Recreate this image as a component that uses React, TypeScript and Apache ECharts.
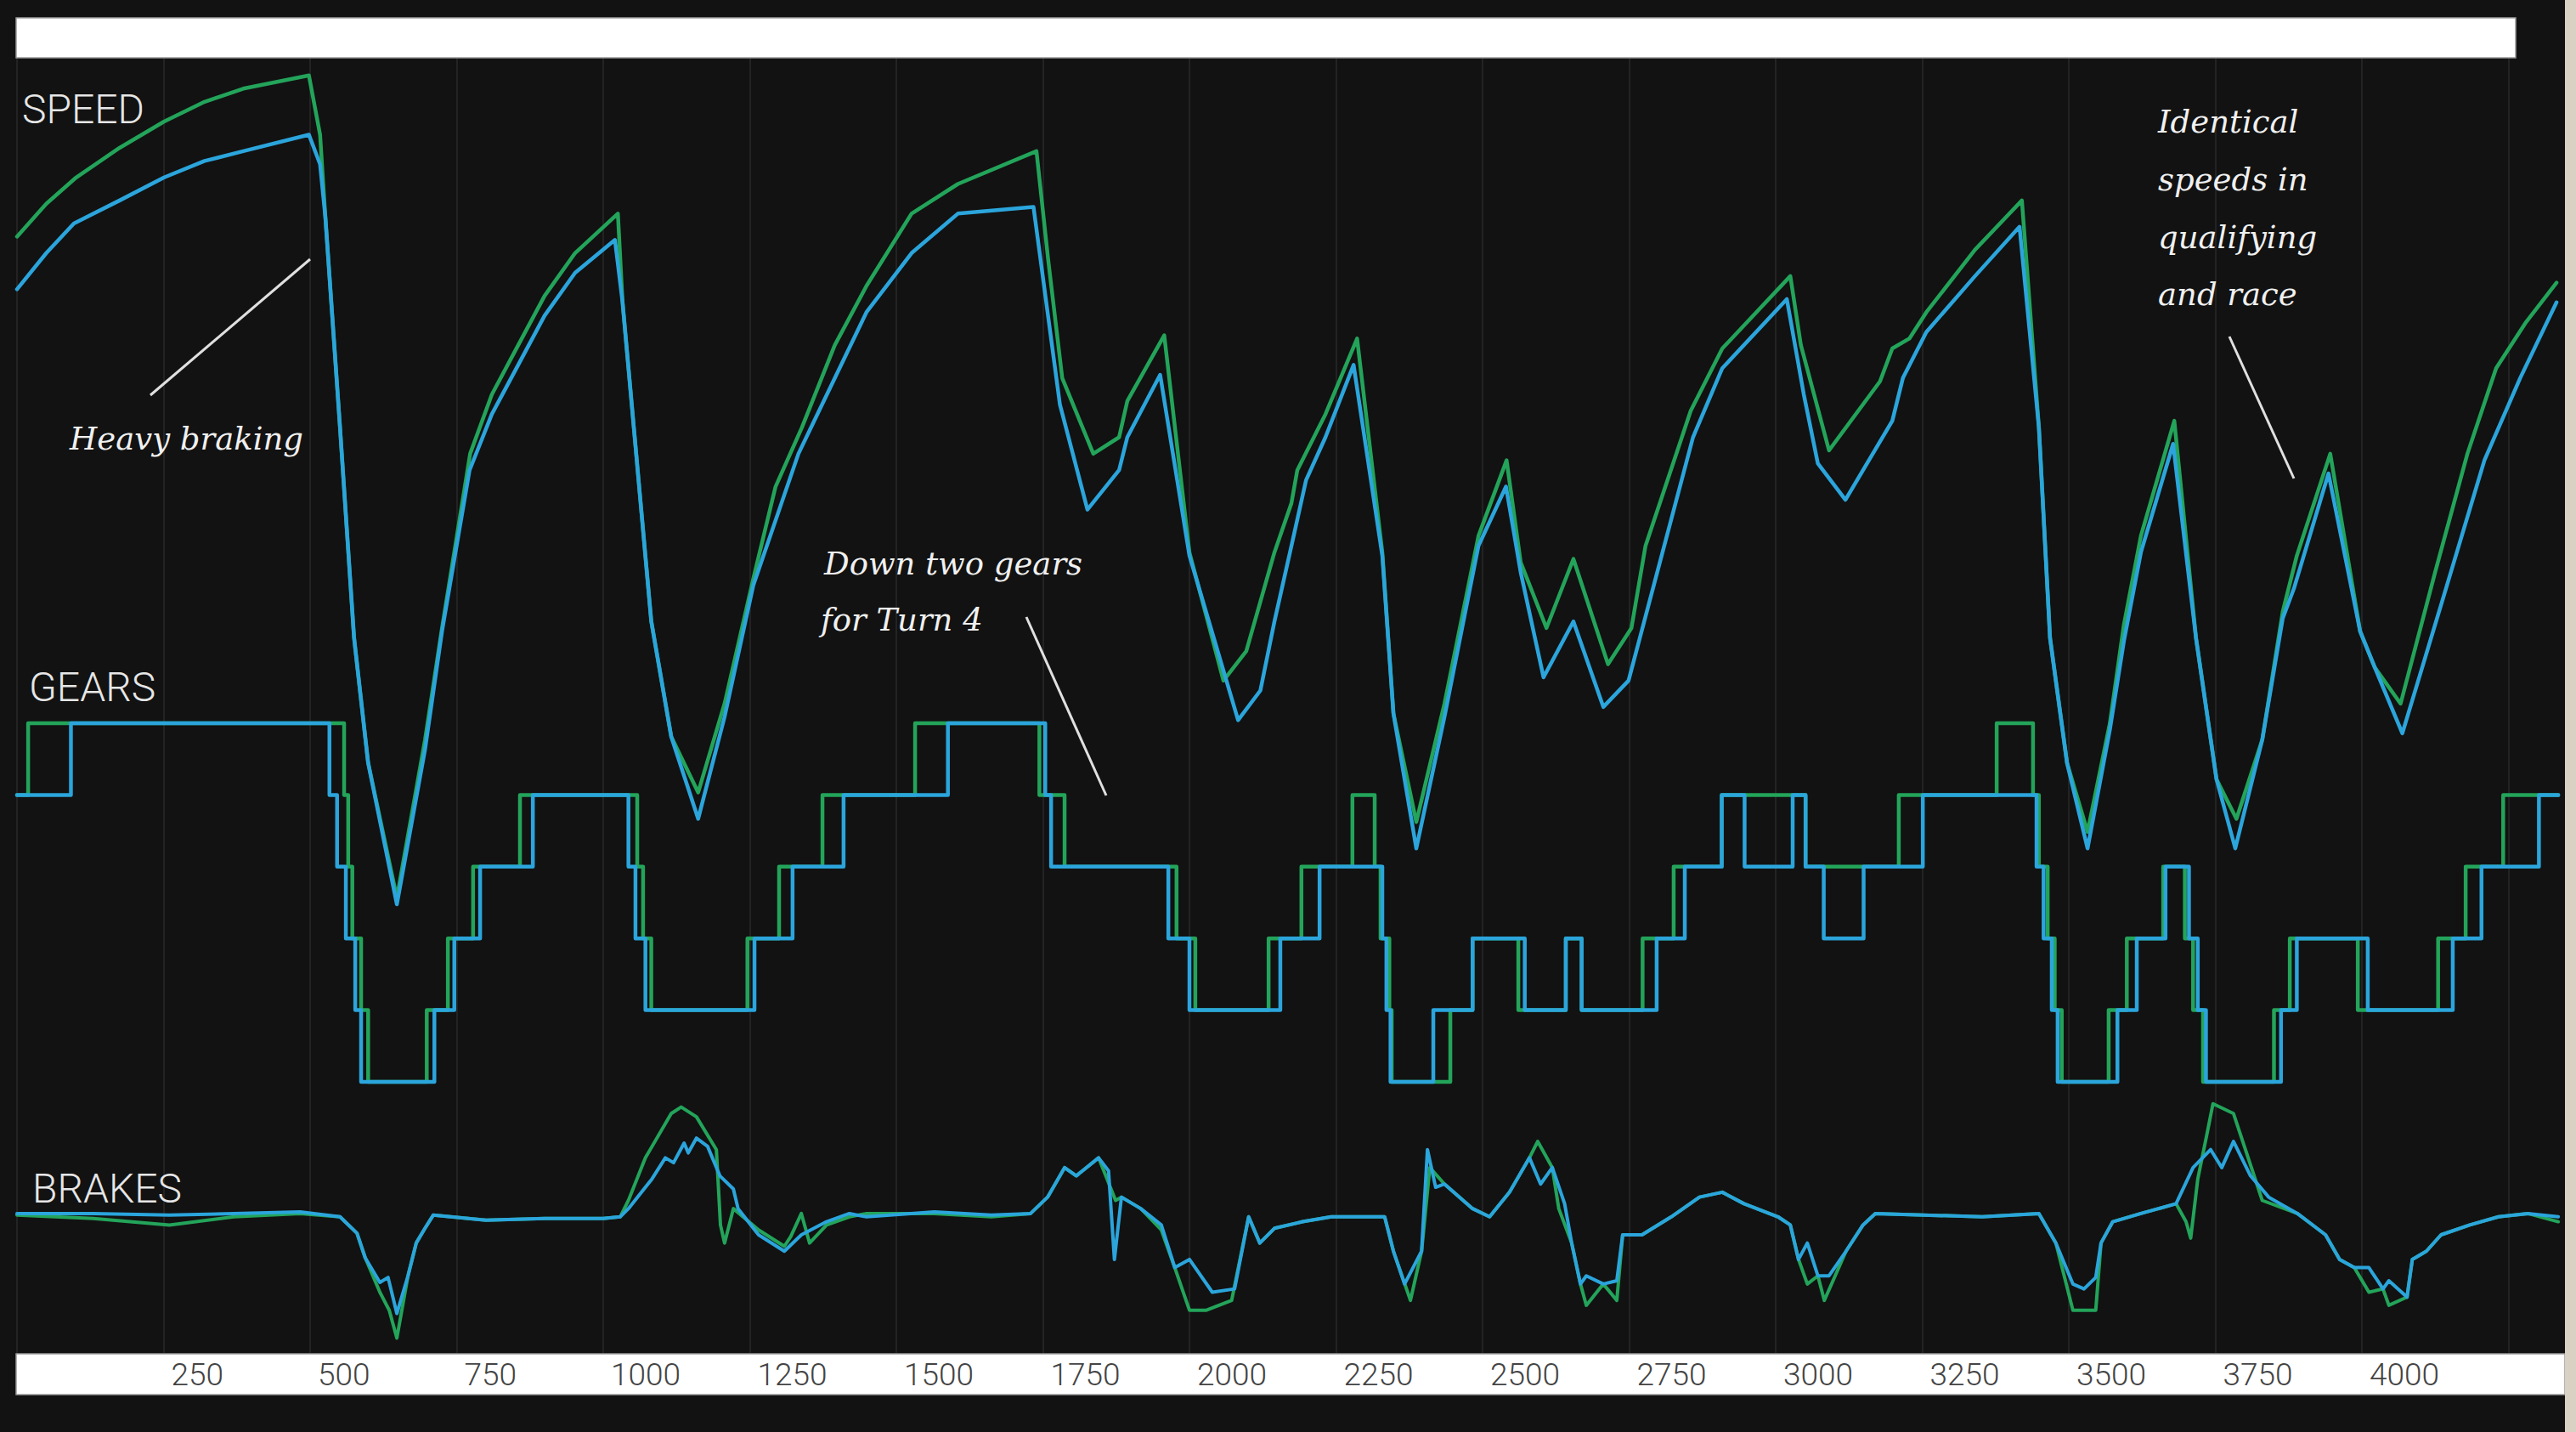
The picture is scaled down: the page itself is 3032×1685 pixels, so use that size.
import React, { useEffect, useRef } from "react";
import * as echarts from "echarts";

// ---------- DATA (distance in metres) ----------
const X_TICK_LABELS = [250, 500, 750, 1000, 1250, 1500, 1750, 2000, 2250, 2500, 2750, 3000, 3250, 3500, 3750, 4000];
const X_MAX = 4350;

// Speed, km/h — green: qualifying lap, blue: race lap
const SPEED_QUALI = [
  [0, 288], [50, 298], [101, 306], [175, 315], [251, 323], [320, 329], [386, 333], [498, 337], [517, 319], [526, 294], [551, 230], [575, 166], [599, 128],
  [648, 87], [696, 135], [725, 169], [773, 222], [810, 240], [855, 255], [900, 270], [952, 283], [1025, 295], [1033, 268], [1082, 171], [1116, 136], [1162, 119],
  [1207, 146], [1256, 184], [1294, 212], [1339, 230], [1395, 255], [1449, 273], [1526, 295], [1605, 304], [1739, 314], [1759, 281],
  [1783, 245], [1836, 222], [1880, 227], [1894, 238], [1957, 258], [2000, 192], [2058, 153], [2097, 162], [2145, 192], [2174, 207],
  [2184, 217], [2232, 234], [2286, 257], [2329, 192], [2348, 143], [2387, 110], [2435, 146], [2493, 197], [2541, 220], [2565, 189],
  [2609, 169], [2655, 190], [2714, 158], [2754, 169], [2778, 194], [2855, 235], [2909, 254], [3025, 276], [3043, 255], [3091, 223],
  [3178, 244], [3199, 254], [3228, 257], [3257, 265], [3340, 284], [3420, 299], [3449, 230], [3468, 166], [3497, 128], [3532, 107], [3570, 140],
  [3594, 170], [3623, 197], [3680, 232], [3717, 166], [3752, 123], [3786, 111], [3830, 135], [3865, 174], [3889, 191], [3946, 222],
  [3997, 168], [4022, 157], [4066, 146], [4125, 186], [4180, 222], [4229, 248], [4280, 262], [4332, 274],
];
const SPEED_RACE = [
  [0, 272], [50, 283], [97, 292], [175, 299], [251, 306], [320, 311], [386, 314], [498, 319], [517, 310], [526, 294], [551, 230], [575, 166], [599, 128],
  [648, 85], [696, 132], [725, 168], [772, 217], [810, 234], [855, 249], [900, 264], [952, 277], [1020, 287], [1033, 268], [1082, 171], [1116, 136], [1162, 111],
  [1207, 142], [1256, 182], [1333, 222], [1449, 265], [1526, 283], [1605, 295], [1734, 297], [1779, 237], [1826, 205], [1880, 217],
  [1894, 227], [1950, 246], [2000, 191], [2083, 141], [2121, 150], [2145, 171], [2174, 194], [2199, 214], [2232, 227], [2280, 249],
  [2329, 191], [2348, 143], [2387, 102], [2435, 142], [2493, 194], [2540, 212], [2565, 186], [2604, 154], [2655, 171], [2706, 145],
  [2749, 153], [2804, 190], [2859, 227], [2909, 248], [3019, 269], [3048, 240], [3072, 219], [3119, 208], [3199, 232], [3217, 245],
  [3257, 259], [3340, 276], [3416, 291], [3449, 230], [3468, 166], [3497, 128], [3532, 102], [3570, 138], [3594, 165], [3623, 192], [3678, 225],
  [3717, 166], [3752, 123], [3784, 102], [3830, 135], [3865, 172], [3884, 181], [3943, 216], [3997, 168], [4022, 157], [4069, 137],
  [4135, 176], [4209, 220], [4270, 245], [4332, 268],
];

// Gear engaged from each distance onward
const GEAR_QUALI = [
  [0, 6], [19, 7], [558, 6], [565, 5], [572, 4], [587, 3], [599, 2], [699, 3], [735, 4], [778, 5], [858, 6], [1058, 5], [1068, 4],
  [1082, 3], [1246, 4], [1300, 5], [1374, 6], [1532, 7], [1744, 6], [1787, 5], [1978, 4], [2010, 3], [2135, 4], [2191, 5], [2278, 6],
  [2316, 5], [2326, 4], [2341, 3], [2345, 2], [2445, 3], [2483, 4], [2561, 3], [2642, 4], [2669, 3], [2773, 4], [2826, 5], [2908, 6],
  [3051, 5], [3210, 6], [3377, 7], [3439, 6], [3449, 5], [3464, 4], [3476, 3], [3488, 2], [3568, 3], [3599, 4], [3661, 5], [3698, 4],
  [3712, 3], [3729, 2], [3850, 3], [3877, 4], [3993, 3], [4130, 4], [4177, 5], [4241, 6], [4335, 6],
];
const GEAR_RACE = [
  [0, 6], [92, 7], [533, 6], [546, 5], [561, 4], [577, 3], [587, 2], [712, 3], [746, 4], [790, 5], [880, 6], [1043, 5], [1055, 4],
  [1072, 3], [1258, 4], [1323, 5], [1410, 6], [1588, 7], [1754, 6], [1764, 5], [1964, 4], [2000, 3], [2155, 4], [2222, 5], [2329, 4],
  [2336, 3], [2343, 2], [2416, 3], [2483, 4], [2572, 3], [2642, 4], [2669, 3], [2797, 4], [2845, 5], [2908, 6], [2947, 5], [3029, 6],
  [3051, 5], [3082, 4], [3150, 5], [3251, 6], [3445, 5], [3457, 4], [3471, 3], [3481, 2], [3583, 3], [3616, 4], [3665, 5], [3705, 4],
  [3720, 3], [3734, 2], [3862, 3], [3889, 4], [4010, 3], [4155, 4], [4204, 5], [4302, 6], [4335, 6],
];

// Brakes trace (relative units)
const BRAKE_QUALI = [
  [0, -0.2], [130, -0.4], [260, -0.8], [370, -0.3], [483, -0.1], [551, -0.3], [580, -1.3], [594, -2.8], [619, -4.9], [635, -6.0],
  [648, -7.7], [667, -3.9], [681, -1.9], [696, -1.0], [710, -0.2], [800, -0.5], [900, -0.4], [1000, -0.4], [1029, -0.3], [1043, 0.7],
  [1072, 3.3], [1116, 6.0], [1133, 6.4], [1159, 5.8], [1193, 3.8], [1200, -0.8], [1207, -1.9], [1222, 0.2], [1265, -1.1], [1309, -2.1],
  [1320, -1.5], [1338, -0.1], [1352, -1.9], [1381, -0.8], [1420, -0.3], [1449, -0.1], [1565, -0.1], [1662, -0.3], [1729, -0.1], [1758, 0.9],
  [1787, 2.7], [1807, 2.2], [1845, 3.3], [1874, 0.7], [1884, 0.9], [1917, 0.2], [1952, -1.1], [1975, -3.4], [2000, -6.0], [2029, -6.0],
  [2072, -5.4], [2101, -0.3], [2120, -1.9], [2145, -1.0], [2193, -0.6], [2242, -0.3], [2333, -0.3], [2348, -2.4], [2377, -5.4], [2396, -2.4],
  [2410, 2.7], [2435, 1.7], [2483, 0.2], [2512, -0.3], [2546, 1.2], [2580, 3.3], [2594, 4.3], [2619, 2.7], [2630, 0.2], [2652, -1.9],
  [2667, -4.4], [2677, -5.7], [2706, -4.4], [2729, -5.4], [2739, -1.4], [2772, -1.4], [2822, -0.3], [2870, 0.9], [2909, 1.2], [2946, 0.5],
  [3004, -0.3], [3025, -0.8], [3039, -2.9], [3054, -4.4], [3072, -3.9], [3083, -5.4], [3120, -2.4], [3149, -0.8], [3170, -0.1], [3352, -0.3],
  [3449, -0.1], [3478, -1.9], [3507, -6.0], [3546, -6.0], [3555, -1.9], [3575, -0.6], [3623, -0.1], [3683, 0.5], [3700, -0.6], [3708, -1.6],
  [3720, 2.0], [3736, 4.8], [3746, 6.6], [3781, 6.0], [3806, 3.3], [3830, 0.7], [3890, -0.1], [3938, -1.4], [3962, -2.9], [3987, -3.4],
  [4012, -4.9], [4036, -4.7], [4046, -5.7], [4077, -5.2], [4086, -2.9], [4110, -2.4], [4135, -1.4], [4184, -0.8], [4233, -0.3], [4283, -0.1],
  [4335, -0.6],
];
const BRAKE_RACE = [
  [0, -0.1], [130, -0.1], [260, -0.2], [370, -0.1], [483, 0.0], [551, -0.3], [580, -1.3], [594, -2.8], [619, -4.3], [633, -4.0],
  [648, -6.2], [667, -3.9], [681, -1.9], [696, -1.0], [710, -0.2], [800, -0.5], [900, -0.4], [1000, -0.4], [1029, -0.3], [1043, 0.2],
  [1083, 2.0], [1106, 3.3], [1120, 3.0], [1138, 4.2], [1145, 3.6], [1159, 4.5], [1178, 4.0], [1199, 2.2], [1222, 1.4], [1230, 0.2],
  [1265, -1.4], [1309, -2.4], [1338, -1.4], [1381, -0.6], [1420, -0.1], [1449, -0.3], [1565, 0.0], [1662, -0.2], [1729, -0.1], [1758, 0.9],
  [1787, 2.7], [1807, 2.2], [1845, 3.3], [1862, 2.5], [1872, -2.9], [1884, 0.9], [1917, 0.2], [1952, -0.8], [1975, -3.4], [2000, -2.9],
  [2039, -4.9], [2077, -4.7], [2101, -0.3], [2120, -1.9], [2145, -1.0], [2193, -0.6], [2242, -0.3], [2333, -0.3], [2348, -2.4], [2367, -4.4],
  [2396, -2.4], [2406, 3.8], [2420, 1.5], [2435, 1.7], [2483, 0.2], [2512, -0.3], [2546, 1.2], [2580, 3.3], [2599, 1.7], [2619, 2.7],
  [2640, 0.5], [2652, -1.9], [2667, -4.4], [2677, -3.9], [2706, -4.4], [2729, -4.2], [2739, -1.4], [2772, -1.4], [2822, -0.3], [2870, 0.9],
  [2909, 1.2], [2946, 0.5], [3004, -0.3], [3025, -0.8], [3039, -2.9], [3054, -1.9], [3072, -3.9], [3091, -3.9], [3120, -2.4], [3149, -0.8],
  [3170, -0.1], [3352, -0.3], [3449, -0.1], [3478, -1.9], [3507, -4.4], [3526, -4.7], [3546, -4.0], [3555, -1.9], [3575, -0.6], [3623, -0.1],
  [3683, 0.5], [3712, 2.7], [3742, 3.8], [3761, 2.7], [3781, 4.3], [3810, 2.2], [3841, 0.9], [3890, -0.1], [3938, -1.4], [3962, -2.9],
  [3987, -3.4], [4012, -3.4], [4036, -4.7], [4046, -4.2], [4077, -5.2], [4086, -2.9], [4110, -2.4], [4135, -1.4], [4184, -0.8], [4233, -0.3],
  [4283, -0.1], [4335, -0.3],
];

// ---------- LAYOUT / STYLE ----------
const W = 3032;
const H = 1685;
const BG = "#121212";
const GREEN = "#23a45a";
const BLUE = "#2ba5dc";
const GRID_LEFT = 20;
const GRID_TOP = 68;
const GRID_BOTTOM = 1592;
const PX_PER_M = 0.69;

// axis min/max so that value v1 sits at pixel p1 and v2 at pixel p2 in the shared grid
function axisRange(v1: number, p1: number, v2: number, p2: number) {
  const k = (p2 - p1) / (v2 - v1);
  return { min: v1 + (GRID_BOTTOM - p1) / k, max: v1 + (GRID_TOP - p1) / k };
}

const LABEL_FONT = "Roboto";
const NOTE_FONT = "'DejaVu Serif', 'Liberation Serif', serif";

function txt(text: string, x: number, y: number, opts: any) {
  return {
    type: "text",
    x,
    y,
    z: 20,
    silent: true,
    style: {
      text,
      fill: opts.fill || "#e6e6e6",
      fontSize: opts.fontSize,
      fontFamily: opts.fontFamily,
      fontWeight: opts.fontWeight || "normal",
      fontStyle: opts.fontStyle || "normal",
      align: "left",
      textAlign: "left",
      verticalAlign: "middle",
      textVerticalAlign: "middle",
    },
  };
}

function ln(x1: number, y1: number, x2: number, y2: number) {
  return {
    type: "line",
    z: 20,
    silent: true,
    shape: { x1, y1, x2, y2 },
    style: { stroke: "#e0e0e0", lineWidth: 3 },
  };
}

export default function App() {
  const ref = useRef<HTMLDivElement>(null);

  useEffect(() => {
    if (!ref.current) return;
    const chart = echarts.init(ref.current, null, { renderer: "svg", width: W, height: H });

    const speedR = axisRange(300, 232, 100, 1006);
    const gearR = axisRange(7, 851, 2, 1273);
    const brakeR = axisRange(0, 1426, -7, 1561);

    const mk = (name: string, data: number[][], yi: number, color: string, width: number, z: number, step?: string) => ({
      name,
      type: "line",
      xAxisIndex: 0,
      yAxisIndex: yi,
      data,
      symbol: "none",
      showSymbol: false,
      silent: true,
      step: step || false,
      z,
      lineStyle: { color, width, cap: "round", join: "round" },
    });

    const option: any = {
      animation: false,
      backgroundColor: BG,
      grid: {
        left: GRID_LEFT,
        top: GRID_TOP,
        width: X_MAX * PX_PER_M,
        height: GRID_BOTTOM - GRID_TOP,
        containLabel: false,
      },
      xAxis: [
        {
          type: "value",
          position: "top",
          min: 0,
          max: X_MAX,
          interval: 250,
          axisLine: { show: false },
          axisTick: { show: false },
          axisLabel: { show: false },
          splitLine: { show: true, showMaxLine: false, lineStyle: { color: "#232323", width: 2 } },
          z: 0,
        },
        {
          type: "value",
          position: "bottom",
          min: 0,
          max: X_MAX,
          interval: 250,
          z: 30,
          axisLine: { show: false },
          axisTick: { show: false },
          splitLine: { show: false },
          axisLabel: {
            customValues: X_TICK_LABELS,
            formatter: (v: number) => (X_TICK_LABELS.indexOf(v) >= 0 ? String(v) : ""),
            align: "left",
            verticalAlign: "middle",
            padding: [0, 0, 0, 9],
            margin: 25,
            fontSize: 37,
            fontWeight: 300,
            fontFamily: "'Liberation Sans Narrow', 'Roboto', sans-serif",
            color: "#444444",
          },
        },
      ],
      yAxis: [
        { type: "value", show: false, min: speedR.min, max: speedR.max, splitLine: { show: false } },
        { type: "value", show: false, min: gearR.min, max: gearR.max, splitLine: { show: false } },
        { type: "value", show: false, min: brakeR.min, max: brakeR.max, splitLine: { show: false } },
      ],
      series: [
        mk("Speed qualifying", SPEED_QUALI, 0, GREEN, 4.5, 2),
        mk("Gear qualifying", GEAR_QUALI, 1, GREEN, 4.5, 2, "end"),
        mk("Brakes qualifying", BRAKE_QUALI, 2, GREEN, 4, 2),
        mk("Speed race", SPEED_RACE, 0, BLUE, 4.5, 3),
        mk("Gear race", GEAR_RACE, 1, BLUE, 4.5, 3, "end"),
        mk("Brakes race", BRAKE_RACE, 2, BLUE, 4, 3),
      ],
      graphic: [
        // top white bar
        { type: "rect", z: 5, silent: true, shape: { x: 19, y: 21, width: 2942, height: 47 }, style: { fill: "#ffffff", stroke: "#9a9a9a", lineWidth: 1.5 } },
        // bottom white axis bar
        { type: "rect", z: 5, silent: true, shape: { x: 19, y: 1593, width: 3000, height: 48 }, style: { fill: "#ffffff", stroke: "#9a9a9a", lineWidth: 1.5 } },
        // right page edge strip
        { type: "rect", z: 6, silent: true, shape: { x: 3019, y: 0, width: 13, height: H }, style: { fill: "#d8d1c4" } },
        // panel labels
        txt("SPEED", 26, 128, { fontSize: 48, fontFamily: LABEL_FONT, fontWeight: 300 }),
        txt("GEARS", 34, 808, { fontSize: 48, fontFamily: LABEL_FONT, fontWeight: 300 }),
        txt("BRAKES", 38, 1398, { fontSize: 48, fontFamily: LABEL_FONT, fontWeight: 300 }),
        // annotations
        txt("Heavy braking", 82, 516, { fontSize: 37, fontFamily: NOTE_FONT, fontStyle: "italic", fill: "#f0f0f0" }),
        ln(177, 465, 365, 305),
        txt("Down two gears", 970, 663, { fontSize: 37, fontFamily: NOTE_FONT, fontStyle: "italic", fill: "#f0f0f0" }),
        txt("for Turn 4", 966, 729, { fontSize: 37, fontFamily: NOTE_FONT, fontStyle: "italic", fill: "#f0f0f0" }),
        ln(1208, 726, 1302, 936),
        txt("Identical", 2540, 143, { fontSize: 37, fontFamily: NOTE_FONT, fontStyle: "italic", fill: "#f0f0f0" }),
        txt("speeds in", 2540, 211, { fontSize: 37, fontFamily: NOTE_FONT, fontStyle: "italic", fill: "#f0f0f0" }),
        txt("qualifying", 2540, 279, { fontSize: 37, fontFamily: NOTE_FONT, fontStyle: "italic", fill: "#f0f0f0" }),
        txt("and race", 2540, 346, { fontSize: 37, fontFamily: NOTE_FONT, fontStyle: "italic", fill: "#f0f0f0" }),
        ln(2624, 396, 2700, 563),
      ],
    };

    chart.setOption(option);
    return () => chart.dispose();
  }, []);

  return (
    <div
      ref={ref}
      style={{ position: "fixed", left: 0, top: 0, width: W, height: H, background: BG }}
    />
  );
}
